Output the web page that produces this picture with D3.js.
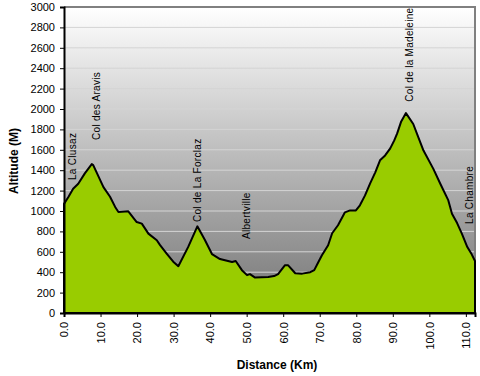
<!DOCTYPE html>
<html>
<head>
<meta charset="utf-8">
<script src="https://cdn.jsdelivr.net/npm/d3@7"></script>
<style>
  body { margin: 0; background: #fff; }
  svg text { font-family: "Liberation Sans", Arial, sans-serif; fill: #000; }
</style>
</head>
<body>
<script>
// profile: distance (km) and altitude (m)
const distances = [0, 1.2, 2.5, 3.9, 5.7, 7.6, 8.0, 10.8, 12.6, 14.0, 14.9, 17.6, 19.9, 21.3, 23.1, 25.4, 26.3, 28.1, 29.9, 31.3,
  34.0, 36.5, 38.5, 40.5, 42.7, 46.0, 47.0, 48.7, 50.1, 50.9, 52.3, 55.9, 57.5, 58.6, 60.5, 61.3, 63.3, 65.2, 67.4, 68.5,
  69.6, 70.6, 72.3, 73.4, 75.0, 76.9, 78.3, 79.9, 81.0, 82.4, 83.8, 85.2, 86.5, 87.9, 89.3, 90.4, 91.2, 92.3, 93.6,
  95.6, 97.0, 98.4, 101.1, 103.0, 105.2, 106.2, 107.6, 108.9, 110.4, 111.6, 112.5]
const altitudes = [1070, 1137, 1218, 1267, 1369, 1460, 1450, 1234, 1140, 1040, 990, 997, 892, 876, 778, 713, 665, 583, 503, 459,
  648, 850, 720, 578, 529, 500, 510, 420, 371, 381, 347, 352, 362, 381, 469, 469, 390, 386, 400, 420,
  498, 567, 664, 782, 860, 987, 1006, 1006, 1056, 1153, 1271, 1379, 1497, 1545, 1614, 1692, 1761, 1878, 1960,
  1853, 1722, 1593, 1413, 1267, 1104, 974, 882, 778, 647, 575, 510]

// waypoint labels: name, km, altitude where the text starts
const placeNames = ['La Clusaz', 'Col des Aravis', 'Col de La Forclaz', 'Albertville', 'Col de la Madeleine', 'La Chambre']
const placeKm = [2.4, 8.8, 36.5, 49.9, 94.5, 110.9]
const placeAlt = [1304, 1696, 892, 725, 2072, 873]

const yTicks = d3.range(0, 3001, 200)
const xTicks = d3.range(0, 111, 10)

const W = 480, H = 376
const margin = {top: 7, right: 5, bottom: 63, left: 64}
const width = W - margin.left - margin.right
const height = H - margin.top - margin.bottom

const x = d3.scaleLinear().domain([0, 112.5]).range([0, width])
const y = d3.scaleLinear().domain([0, 3000]).range([height, 0])

const data = distances.map((d, i) => ({km: d, alt: altitudes[i]}))

const svg = d3.select('body').append('svg')
  .attr('width', W).attr('height', H)

const grad = svg.append('defs').append('linearGradient')
  .attr('id', 'bg').attr('x1', 0).attr('y1', 0).attr('x2', 0).attr('y2', 1)
grad.append('stop').attr('offset', '0%').attr('stop-color', '#ffffff')
grad.append('stop').attr('offset', '100%').attr('stop-color', '#747474')

const g = svg.append('g').attr('transform', `translate(${margin.left},${margin.top})`)

// plot background
g.append('rect').attr('width', width).attr('height', height).attr('fill', 'url(#bg)')

// gridlines
g.append('g').selectAll('line').data(yTicks.filter(d => d > 0 && d < 3000)).join('line')
  .attr('x1', 0).attr('x2', width)
  .attr('y1', d => y(d)).attr('y2', d => y(d))
  .attr('stroke', '#d4d4d4').attr('stroke-width', 1)

// top and right border
g.append('path')
  .attr('d', `M0,0H${width}V${height}`)
  .attr('fill', 'none').attr('stroke', '#808080').attr('stroke-width', 2)

// the profile
const area = d3.area()
  .x(d => x(d.km))
  .y0(y(0))
  .y1(d => y(d.alt))

g.append('path').datum(data)
  .attr('d', area)
  .attr('fill', '#99cc00')
  .attr('stroke', '#000').attr('stroke-width', 2).attr('stroke-linejoin', 'round')

// axes
const yAxis = g.append('g')
  .call(d3.axisLeft(y).tickValues(yTicks).tickSize(4).tickPadding(5).tickFormat(d3.format('d')))
yAxis.select('.domain').attr('stroke', '#000').attr('stroke-width', 2)
yAxis.selectAll('.tick line').attr('stroke', '#000')
yAxis.selectAll('.tick text').attr('font-size', 11).attr('font-family', '"Liberation Sans", Arial, sans-serif')

const xAxis = g.append('g').attr('transform', `translate(0,${height})`)
  .call(d3.axisBottom(x).tickValues(xTicks).tickSize(4).tickFormat(d3.format('.1f')))
xAxis.select('.domain').attr('stroke', '#000').attr('stroke-width', 2)
xAxis.selectAll('.tick line').attr('stroke', '#000')
xAxis.selectAll('.tick text')
  .attr('font-size', 11).attr('font-family', '"Liberation Sans", Arial, sans-serif')
  .attr('text-anchor', 'end')
  .attr('transform', 'translate(0,9) rotate(-90)')
  .attr('x', 0).attr('y', 0).attr('dy', '0.35em')

// place labels
g.append('g').selectAll('text').data(placeNames).join('text')
  .attr('transform', (d, i) => `translate(${x(placeKm[i])},${y(placeAlt[i])}) rotate(-90)`)
  .attr('dy', '0.35em')
  .attr('font-size', 10)
  .attr('letter-spacing', 0.3)
  .text(d => d)

// axis titles
svg.append('text')
  .attr('transform', `translate(14,${margin.top + 154}) rotate(-90)`)
  .attr('text-anchor', 'middle').attr('dy', '0.35em')
  .attr('font-size', 12).attr('font-weight', 'bold')
  .text('Altitude (M)')

svg.append('text')
  .attr('x', 277).attr('y', 369)
  .attr('text-anchor', 'middle')
  .attr('font-size', 12).attr('font-weight', 'bold')
  .text('Distance (Km)')
</script>
</body>
</html>
